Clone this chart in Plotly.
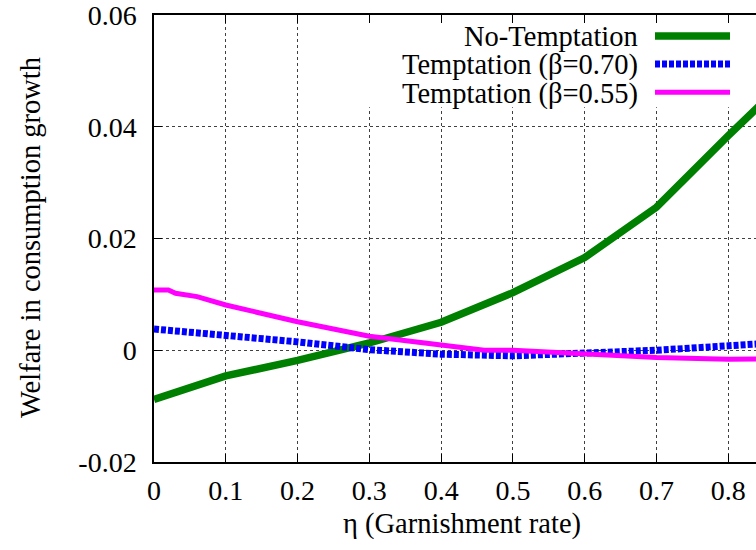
import plotly.graph_objects as go

# ---- data ----
eta_green = [0.0, 0.1, 0.2, 0.3, 0.4, 0.5, 0.6, 0.7, 0.8, 0.9]
no_temptation = [-0.0088, -0.0046, -0.0018, 0.0013, 0.0050, 0.0103, 0.0166, 0.0256, 0.0384, 0.0508]

eta_blue = [0.0, 0.1, 0.2, 0.3, 0.4, 0.5, 0.6, 0.7, 0.8, 0.9]
temptation_070 = [0.0038, 0.0028, 0.0015, 0.0001, -0.0007, -0.0010, -0.0006, 0.0000, 0.0008, 0.0016]

eta_mag = [0.0, 0.02, 0.03, 0.06, 0.1, 0.2, 0.3, 0.34, 0.4, 0.46, 0.5, 0.6, 0.7, 0.8, 0.9]
temptation_055 = [0.0108, 0.0108, 0.0102, 0.0096, 0.0081, 0.0051, 0.0025, 0.0019, 0.0008, 0.0,
                  0.0, -0.0006, -0.0013, -0.0016, -0.0015]

x_ticks = [0, 0.1, 0.2, 0.3, 0.4, 0.5, 0.6, 0.7, 0.8]
x_tick_text = ["0", "0.1", "0.2", "0.3", "0.4", "0.5", "0.6", "0.7", "0.8"]
y_ticks = [-0.02, 0, 0.02, 0.04, 0.06]
y_tick_text = ["-0.02", "0", "0.02", "0.04", "0.06"]

series_names = ["No-Temptation", "Temptation (β=0.70)", "Temptation (β=0.55)"]
GREEN, BLUE, MAGENTA = "#008000", "#0000ff", "#ff00ff"

FONT = "Liberation Serif"
FS_TICK = 28
FS_TEXT = 28.5

fig = go.Figure()
fig.add_trace(go.Scatter(x=eta_green, y=no_temptation, mode="lines",
                         line=dict(color=GREEN, width=7.5), name=series_names[0]))
fig.add_trace(go.Scatter(x=eta_blue, y=temptation_070, mode="lines",
                         line=dict(color=BLUE, width=7, dash="5px,2px"), name=series_names[1]))
fig.add_trace(go.Scatter(x=eta_mag, y=temptation_055, mode="lines",
                         line=dict(color=MAGENTA, width=5), name=series_names[2]))

W, H = 756, 550
# plot area in page pixels
PL, PR, PT, PB = 154, 756, 15, 462
L = PL
R = W - PR
T = PT
B = H - PB
plot_w = PR - PL
plot_h = PB - PT

def px_x(p):
    return (p - PL) / plot_w

def px_y(p):
    return (PB - p) / plot_h

shapes = [
    # opaque key box (blanks the grid behind the key)
    dict(type="rect", xref="x", yref="y", x0=0.285, x1=0.95, y0=0.0435, y1=0.06,
         fillcolor="white", line=dict(width=0), layer="between"),
]
annotations = []
key_text_y = [37, 65, 93.5]
key_line_y = [36, 64, 92.3]
key_styles = [dict(color=GREEN, width=7.5), dict(color=BLUE, width=7, dash="5px,2px"),
              dict(color=MAGENTA, width=5)]
for name, ty, ly, st in zip(series_names, key_text_y, key_line_y, key_styles):
    annotations.append(dict(text=name, xref="paper", yref="paper", x=px_x(640), y=px_y(ty),
                            xanchor="right", yanchor="middle", showarrow=False,
                            font=dict(family=FONT, size=FS_TEXT, color="black")))
    shapes.append(dict(type="line", xref="paper", yref="paper", x0=px_x(655), x1=px_x(730),
                       y0=px_y(ly), y1=px_y(ly), line=st, layer="above"))

annotations.append(dict(text="η (Garnishment rate)", xref="paper", yref="paper",
                        x=px_x(462), y=px_y(524), xanchor="center", yanchor="middle",
                        showarrow=False, font=dict(family=FONT, size=FS_TEXT, color="black")))
annotations.append(dict(text="Welfare in consumption growth", xref="paper", yref="paper",
                        x=px_x(30), y=px_y(238), xanchor="center", yanchor="middle",
                        textangle=-90, showarrow=False,
                        font=dict(family=FONT, size=FS_TEXT, color="black")))

fig.update_layout(
    width=W, height=H,
    margin=dict(l=L, r=R, t=T, b=B, pad=0),
    plot_bgcolor="white", paper_bgcolor="white",
    showlegend=False,
    font=dict(family=FONT, size=FS_TICK, color="black"),
    shapes=shapes, annotations=annotations,
)
fig.update_xaxes(range=[0, 0.8386], tickvals=x_ticks, ticktext=x_tick_text,
                 showline=True, linecolor="black", linewidth=1.5, mirror="ticks",
                 ticks="inside", ticklen=8, tickwidth=1, tickcolor="black",
                 showgrid=True, gridcolor="rgba(0,0,0,0.75)", griddash="dot", gridwidth=1,
                 zeroline=False, ticklabelstandoff=3, ticklabeloverflow="allow",
                 tickfont=dict(family=FONT, size=FS_TICK, color="black"))
fig.update_yaxes(range=[-0.02, 0.06], tickvals=y_ticks, ticktext=y_tick_text,
                 showline=True, linecolor="black", linewidth=1.5, mirror=False,
                 ticks="inside", ticklen=8, tickwidth=1, tickcolor="black",
                 showgrid=True, gridcolor="rgba(0,0,0,0.75)", griddash="dot", gridwidth=1,
                 zeroline=False, ticklabelstandoff=10, ticklabeloverflow="allow",
                 tickfont=dict(family=FONT, size=FS_TICK, color="black"))

fig.write_html("out.html", config={"displayModeBar": False},
               post_script="document.body.style.margin='0';")
